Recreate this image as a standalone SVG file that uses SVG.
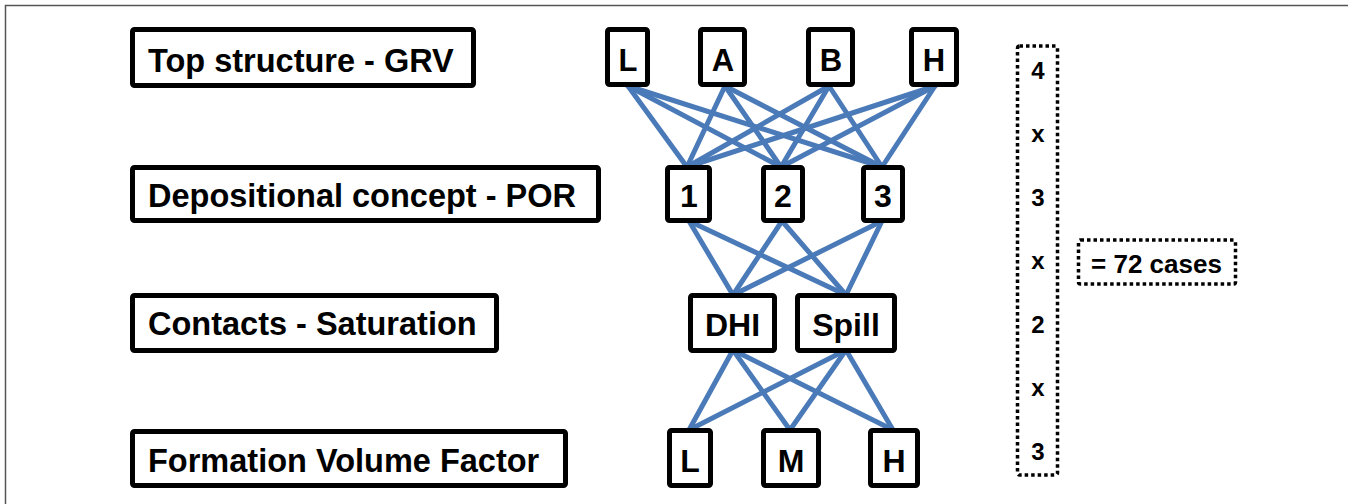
<svg xmlns="http://www.w3.org/2000/svg" width="1348" height="504" viewBox="0 0 1348 504">
<style>
.box{fill:#fff;stroke:#000;stroke-width:5}
.dot{fill:none;stroke:#000;stroke-width:3.5;stroke-dasharray:3.5 3}
.t{font-family:"Liberation Sans",Arial,sans-serif;font-weight:bold;fill:#000}
.lbl{font-size:32.5px}
.c{font-size:32px;text-anchor:middle}
.c1{font-size:31px;text-anchor:middle}
.n{font-size:24px;text-anchor:middle}
.ln{stroke:#4a7ab8;stroke-width:5;stroke-linecap:round;fill:none}
</style>
<rect width="1348" height="504" fill="#fff"/>
<path d="M5.5,504 V5.5 H1348" fill="none" stroke="#555" stroke-width="1.5"/>

<g id="connectors">
<g class="ln">
<line x1="628" y1="86" x2="687" y2="167"/><line x1="628" y1="86" x2="781" y2="167"/><line x1="628" y1="86" x2="882" y2="167"/>
<line x1="725" y1="86" x2="687" y2="167"/><line x1="725" y1="86" x2="781" y2="167"/><line x1="725" y1="86" x2="882" y2="167"/>
<line x1="829" y1="86" x2="687" y2="167"/><line x1="829" y1="86" x2="781" y2="167"/><line x1="829" y1="86" x2="882" y2="167"/>
<line x1="935" y1="86" x2="687" y2="167"/><line x1="935" y1="86" x2="781" y2="167"/><line x1="935" y1="86" x2="882" y2="167"/>
<line x1="689" y1="221" x2="733" y2="295"/><line x1="689" y1="221" x2="846" y2="295"/>
<line x1="782" y1="221" x2="733" y2="295"/><line x1="782" y1="221" x2="846" y2="295"/>
<line x1="882" y1="221" x2="733" y2="295"/><line x1="882" y1="221" x2="846" y2="295"/>
<line x1="733" y1="350" x2="689" y2="430"/><line x1="733" y1="350" x2="790" y2="430"/><line x1="733" y1="350" x2="893" y2="430"/>
<line x1="846" y1="350" x2="689" y2="430"/><line x1="846" y1="350" x2="790" y2="430"/><line x1="846" y1="350" x2="893" y2="430"/>
</g>
</g>

<g id="label-grv"><rect class="box" x="132.5" y="29.5" width="341" height="56" rx="2"/><text class="t lbl" x="148" y="72">Top structure - GRV</text></g>
<g id="label-por"><rect class="box" x="132.5" y="167.5" width="466" height="53" rx="2"/><text class="t lbl" x="148" y="207">Depositional concept - POR</text></g>
<g id="label-sat"><rect class="box" x="132.5" y="295.5" width="364" height="55" rx="2"/><text class="t lbl" x="148" y="335">Contacts - Saturation</text></g>
<g id="label-fvf"><rect class="box" x="132.5" y="431.5" width="433" height="54" rx="2"/><text class="t lbl" x="148" y="472">Formation Volume Factor</text></g>

<g id="grv-L"><rect class="box" x="607.5" y="29.5" width="40" height="55" rx="2"/><text class="t c1" x="628" y="71">L</text></g>
<g id="grv-A"><rect class="box" x="700.5" y="29.5" width="44" height="55" rx="2"/><text class="t c1" x="723" y="71">A</text></g>
<g id="grv-B"><rect class="box" x="808.5" y="29.5" width="44" height="55" rx="2"/><text class="t c1" x="831" y="71">B</text></g>
<g id="grv-H"><rect class="box" x="911.5" y="29.5" width="45" height="55" rx="2"/><text class="t c1" x="934" y="71">H</text></g>

<g id="por-1"><rect class="box" x="667.5" y="167.5" width="42" height="53" rx="2"/><text class="t c" x="689" y="207">1</text></g>
<g id="por-2"><rect class="box" x="763.5" y="167.5" width="39" height="53" rx="2"/><text class="t c" x="783" y="207">2</text></g>
<g id="por-3"><rect class="box" x="863.5" y="167.5" width="39" height="53" rx="2"/><text class="t c" x="883" y="207">3</text></g>

<g id="sat-DHI"><rect class="box" x="690.5" y="295.5" width="84" height="55" rx="2"/><text class="t c" x="732.5" y="336">DHI</text></g>
<g id="sat-Spill"><rect class="box" x="797.5" y="295.5" width="97" height="55" rx="2"/><text class="t c" x="846" y="336">Spill</text></g>

<g id="fvf-L"><rect class="box" x="669.5" y="430.5" width="41" height="55" rx="2"/><text class="t c" x="690" y="472">L</text></g>
<g id="fvf-M"><rect class="box" x="763.5" y="430.5" width="55" height="55" rx="2"/><text class="t c" x="791" y="472">M</text></g>
<g id="fvf-H"><rect class="box" x="870.5" y="430.5" width="47" height="55" rx="2"/><text class="t c" x="894" y="472">H</text></g>

<g id="product">
<rect class="dot" x="1017.5" y="46" width="40" height="429" rx="2"/>
<text class="t n" x="1038" y="79">4</text>
<text class="t n" x="1038" y="142">x</text>
<text class="t n" x="1038" y="205.5">3</text>
<text class="t n" x="1038" y="269">x</text>
<text class="t n" x="1038" y="332.5">2</text>
<text class="t n" x="1038" y="396">x</text>
<text class="t n" x="1038" y="459.5">3</text>
</g>
<g id="result">
<rect class="dot" x="1078.5" y="240" width="157" height="44" rx="2"/>
<text class="t" x="1091" y="273" font-size="26.5" textLength="131" lengthAdjust="spacingAndGlyphs">= 72 cases</text>
</g>
</svg>
